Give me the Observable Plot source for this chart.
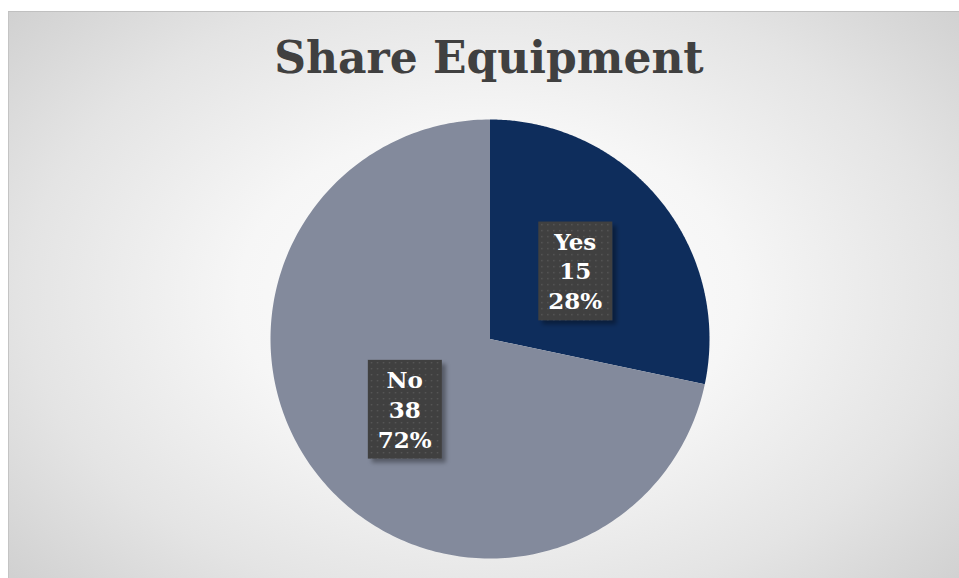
<!DOCTYPE html>
<html>
<head>
<meta charset="utf-8">
<script src="https://cdn.jsdelivr.net/npm/d3@7"></script>
<script src="https://cdn.jsdelivr.net/npm/@observablehq/plot@0.6"></script>
<style>
  html, body { margin: 0; padding: 0; background: #ffffff; }
  #frame {
    position: absolute; left: 8px; top: 11px; width: 951px; height: 567px;
    background: radial-gradient(ellipse 75% 85% at 50.5% 50%, #ffffff 0%, #f6f6f6 35%, #e4e4e4 65%, #c8c8c8 100%);
    box-shadow: inset 0 1px 0 #c0c0c0, inset 1px 0 0 #c4c4c4;
    overflow: hidden;
  }
  #title {
    height: 89px; line-height: 94px; text-align: center; padding-left: 11px;
    font-family: "DejaVu Serif", serif; font-weight: bold; font-size: 44px;
    color: #404040;
  }
</style>
</head>
<body>
<div id="frame">
  <div id="title">Share Equipment</div>
  <div id="chart"></div>
</div>
<script>
const chartTitle = "Share Equipment";
const categories = ["Yes", "No"];
const counts = [15, 38];
const colors = ["#0e2d5c", "#838a9c"];

const total = d3.sum(counts);
const pie = d3.pie().sort(null).startAngle(0).endAngle(2 * Math.PI)(counts);

// slice polygons in unit coordinates (angle measured clockwise from top)
const slices = pie.map((p, i) => {
  const pts = [{x: 0, y: 0}];
  const n = 240;
  for (let k = 0; k <= n; k++) {
    const a = p.startAngle + (p.endAngle - p.startAngle) * k / n;
    pts.push({x: Math.sin(a), y: Math.cos(a)});
  }
  pts.push({x: 0, y: 0});
  return {name: categories[i], color: colors[i], pts};
});

const labels = pie.map((p, i) => {
  const a = (p.startAngle + p.endAngle) / 2;
  return {
    x: 0.5 * Math.sin(a), y: 0.5 * Math.cos(a),
    text: `${categories[i]}\n${counts[i]}\n${Math.round(counts[i] / total * 100)}%`
  };
});

function boxBehind(index, scales, values, dims, context, next) {
  const g = next(index, scales, values, dims, context);
  const svg = context.ownerSVGElement;
  const ns = "http://www.w3.org/2000/svg";
  const defs = document.createElementNS(ns, "defs");
  defs.innerHTML = `
    <pattern id="dots" width="6" height="6" patternUnits="userSpaceOnUse">
      <rect width="6" height="6" fill="#404040"></rect>
      <rect x="2" y="2" width="1.3" height="1.3" fill="#5c5c5c"></rect>
    </pattern>
    <filter id="shadow" x="-20%" y="-20%" width="150%" height="150%">
      <feDropShadow dx="4" dy="4" stdDeviation="2" flood-color="#000" flood-opacity="0.35"></feDropShadow>
    </filter>`;
  svg.insertBefore(defs, svg.firstChild);
  const texts = g.querySelectorAll("text");
  const bg = document.createElementNS(ns, "g");
  g.insertBefore(bg, g.firstChild);
  setTimeout(() => {
    texts.forEach((t) => {
      const b = t.getBBox();
      const r = document.createElementNS(ns, "rect");
      const padX = 10, padY = 6;
      const tr = t.getAttribute("transform");
      if (tr) r.setAttribute("transform", tr);
      r.setAttribute("x", b.x - padX);
      r.setAttribute("y", b.y - padY);
      r.setAttribute("width", b.width + 2 * padX);
      r.setAttribute("height", b.height + 2 * padY);
      r.setAttribute("fill", "url(#dots)");
      r.setAttribute("filter", "url(#shadow)");
      bg.appendChild(r);
    });
  }, 0);
  return g;
}

const plot = Plot.plot({
  width: 951,
  height: 478,
  marginLeft: 262,
  marginRight: 250,
  marginTop: 19,
  marginBottom: 20,
  x: {domain: [-1, 1], axis: null},
  y: {domain: [-1, 1], axis: null},
  style: {background: "transparent", overflow: "visible"},
  marks: [
    ...slices.map(s => Plot.line(s.pts, {x: "x", y: "y", fill: s.color, stroke: "none", curve: "linear"})),
    Plot.text(labels, {
      x: "x", y: "y", text: "text",
      fill: "#ffffff",
      fontSize: 23,
      fontWeight: "bold",
      fontFamily: "DejaVu Serif, serif",
      lineHeight: 1.3,
      render: boxBehind
    })
  ]
});
document.getElementById("chart").appendChild(plot);
</script>
</body>
</html>
